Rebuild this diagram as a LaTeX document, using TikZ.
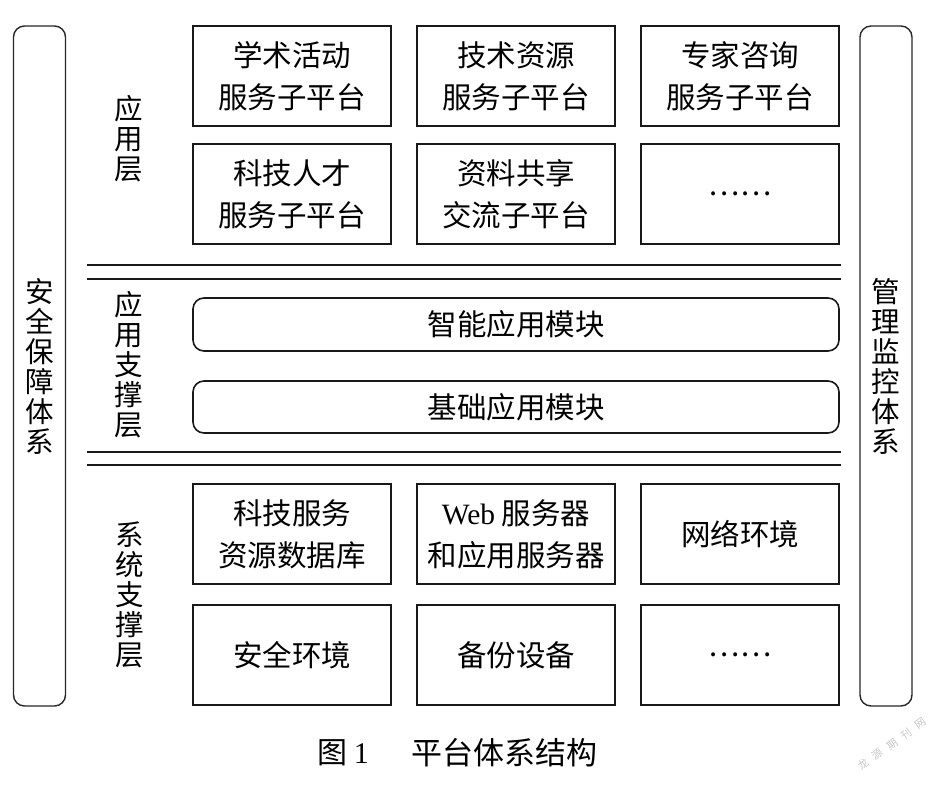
\documentclass[tikz,border=0pt]{standalone}
\usepackage{fontspec}
\setmainfont{Liberation Serif}
\newfontfamily\cjk{Noto Sans CJK SC}
\begin{document}
\begin{tikzpicture}[x=1pt,y=-1pt,
  box/.style={draw=black!90,line width=1.7pt,minimum width=198pt,minimum height=100pt,
    inner sep=0pt,align=center,font=\cjk\fontsize{29.5}{42}\selectfont},
  module/.style={draw=black!90,line width=1.6pt,rounded corners=11pt,minimum width=646pt,
    inner sep=0pt,align=center,font=\cjk\fontsize{29.5}{42}\selectfont},
  sidebar/.style={draw=black!85,line width=1.4pt,rounded corners=11pt,minimum width=52pt,
    minimum height=680pt,inner sep=0pt},
  vlabel/.style={align=center,inner sep=0pt,font=\cjk\fontsize{28.5}{30}\selectfont},
  sep/.style={line width=1.6pt,draw=black!90}]
\useasboundingbox (0,0) rectangle (935,786);
% side bars
\node[sidebar] (lbar) at (39.5,366) {};
\node[sidebar] (rbar) at (886,366) {};
\node[vlabel] (lbl) at (lbar.center) {安\\全\\保\\障\\体\\系};
\node[vlabel] (rbl) at (rbar.center) {管\\理\\监\\控\\体\\系};
% layer labels
\node[vlabel] (l1) at (129,139) {应\\用\\层};
\node[vlabel] (l2) at (129,365) {应\\用\\支\\撑\\层};
\node[vlabel] (l3) at (130,595) {系\\统\\支\\撑\\层};
% application layer
\node[box] (a1) at (292,76) {学术活动\\服务子平台};
\node[box] (a2) at (516,76) {技术资源\\服务子平台};
\node[box] (a3) at (740,76) {专家咨询\\服务子平台};
\node[box] (a4) at (292,194) {科技人才\\服务子平台};
\node[box] (a5) at (516,194) {资料共享\\交流子平台};
\node[box] (a6) at (740,194) {……};
% separators
\coordinate (s1a) at (87,265); \coordinate (s1b) at (841,265);
\coordinate (s2a) at (87,279); \coordinate (s2b) at (841,279);
\coordinate (s3a) at (87,452); \coordinate (s3b) at (841,452);
\coordinate (s4a) at (87,465); \coordinate (s4b) at (841,465);
\draw[sep] (s1a) -- (s1b);
\draw[sep] (s2a) -- (s2b);
\draw[sep] (s3a) -- (s3b);
\draw[sep] (s4a) -- (s4b);
% support modules
\node[module,minimum height=53pt] (m1) at (516,324.5) {智能应用模块};
\node[module,minimum height=52pt] (m2) at (516,407) {基础应用模块};
% system support layer
\node[box] (b1) at (292,534) {科技服务\\资源数据库};
\node[box] (b2) at (516,534) {{\rmfamily Web} 服务器\\和应用服务器};
\node[box] (b3) at (740,534) {网络环境};
\node[box] (b4) at (292,655) {安全环境};
\node[box] (b5) at (516,655) {备份设备};
\node[box] (b6) at (740,655) {……};
% caption
\node[inner sep=0pt,font=\cjk\fontsize{30}{30}\selectfont] (cap1) at (343,753) {图 {\rmfamily 1}};
\node[inner sep=0pt,font=\cjk\fontsize{31}{31}\selectfont] (cap2) at (504,753) {平台体系结构};
% watermark
\node[inner sep=0pt,rotate=36,text=black!22,font=\cjk\fontsize{10.5}{10.5}\selectfont] (wm) at (892,744) {龙\hspace{7pt}源\hspace{7pt}期\hspace{7pt}刊\hspace{7pt}网};
\end{tikzpicture}
\end{document}
